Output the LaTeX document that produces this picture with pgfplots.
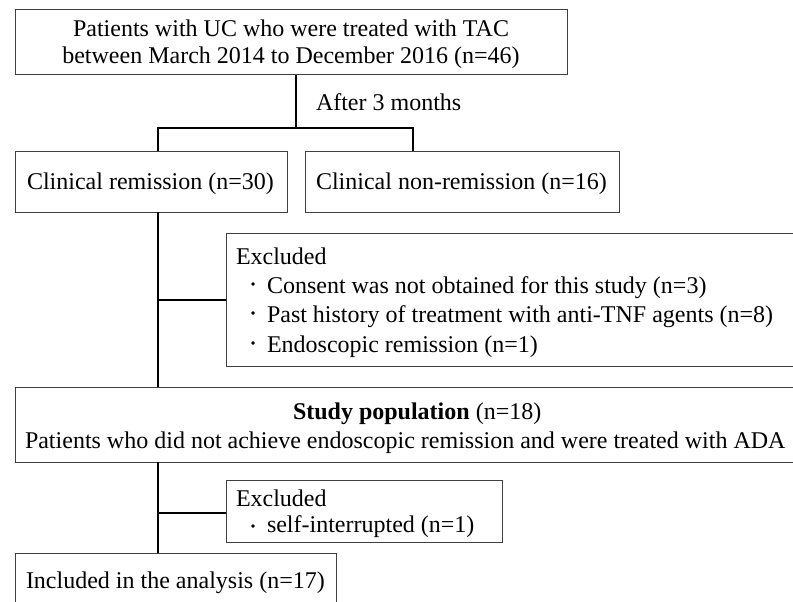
\documentclass[border=0pt]{standalone}
\usepackage{pgfplots}
\pgfplotsset{compat=1.18}
\usepackage{fontspec}
\setmainfont{Liberation Serif}
\newcommand\fs{\fontsize{24bp}{29bp}\selectfont}
\tikzset{t/.style={font=\fs, inner sep=0pt, outer sep=0pt}}
\begin{document}
\begin{tikzpicture}
\begin{axis}[
  width=793bp, height=602bp, scale only axis,
  xmin=0, xmax=793, ymin=0, ymax=602, y dir=reverse,
  hide axis, clip=true,
  box/.style={line width=1bp, color=black!75, line cap=rect, mark=none},
  conn/.style={line width=2bp, color=black, mark=none},
]
% boxes
\addplot[box] coordinates {(15,10) (567,10) (567,75) (15,75) (15,10)};
\addplot[box] coordinates {(15,151) (287,151) (287,212) (15,212) (15,151)};
\addplot[box] coordinates {(305,151) (619,151) (619,212) (305,212) (305,151)};
\addplot[box] coordinates {(793,233) (226,233) (226,366) (793,366)};
\addplot[box] coordinates {(793,387) (15,387) (15,462) (793,462)};
\addplot[box] coordinates {(226,480) (502,480) (502,542) (226,542) (226,480)};
\addplot[box] coordinates {(15,602) (15,553) (336,553) (336,602)};
% connectors
\addplot[conn] coordinates {(296,75) (296,128)};
\addplot[conn] coordinates {(158,151) (158,128) (413,128) (413,151)};
\addplot[conn] coordinates {(158,212) (158,387)};
\addplot[conn] coordinates {(158,300) (226,300)};
\addplot[conn] coordinates {(158,462) (158,553)};
\addplot[conn] coordinates {(158,513) (226,513)};
% bullets
\addplot[only marks, mark=*, mark size=1.5bp, black] coordinates {(253,284) (253,313) (253,343) (253,526)};
% texts
\node[t, anchor=base] at (axis cs:291,37) {Patients with UC who were treated with TAC};
\node[t, anchor=base] at (axis cs:291,64) {between March 2014 to December 2016 (n=46)};
\node[t, anchor=base west] at (axis cs:316,110) {After 3 months};
\node[t, anchor=base west] at (axis cs:27,189) {Clinical remission (n=30)};
\node[t, anchor=base west] at (axis cs:316,189) {Clinical non-remission (n=16)};
\node[t, anchor=base west] at (axis cs:236,264) {Excluded};
\node[t, anchor=base west] at (axis cs:267,293) {Consent was not obtained for this study (n=3)};
\node[t, anchor=base west] at (axis cs:267,322) {Past history of treatment with anti-TNF agents (n=8)};
\node[t, anchor=base west] at (axis cs:267,352) {Endoscopic remission (n=1)};
\node[t, anchor=base west] at (axis cs:293,419) {\textbf{Study population} (n=18)};
\node[t, anchor=base west] at (axis cs:25,448) {Patients who did not achieve endoscopic remission and were treated with ADA};
\node[t, anchor=base west] at (axis cs:236,506) {Excluded};
\node[t, anchor=base west] at (axis cs:267,532) {self-interrupted (n=1)};
\node[t, anchor=base west] at (axis cs:26,588) {Included in the analysis (n=17)};
\end{axis}
\pgfresetboundingbox
\useasboundingbox (current axis.south west) rectangle (current axis.north east);
\end{tikzpicture}
\end{document}
